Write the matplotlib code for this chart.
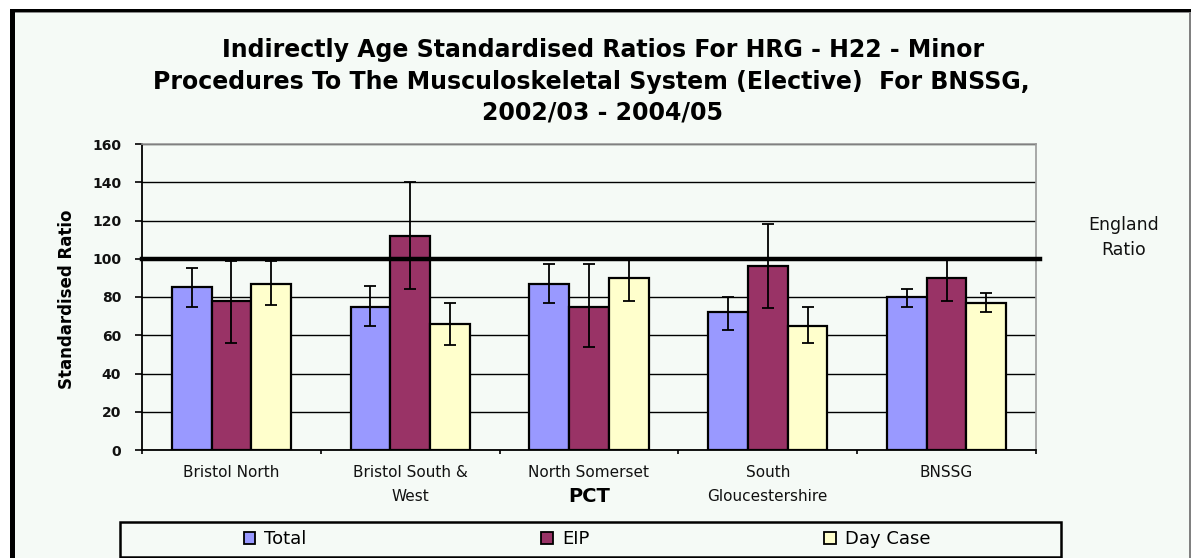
import matplotlib
matplotlib.use("Agg")
import matplotlib.pyplot as plt
from matplotlib.patches import Rectangle, Patch
import numpy as np

# ---- data -------------------------------------------------------------
pcts = ["Bristol North", "Bristol South &\nWest", "North Somerset",
        "South\nGloucestershire", "BNSSG"]
series = ["Total", "EIP", "Day Case"]

total = [85, 75, 87, 72, 80]
total_lo = [75, 65, 77, 63, 75]
total_hi = [95, 86, 97, 80, 84]

eip = [78, 112, 75, 96, 90]
eip_lo = [56, 84, 54, 74, 78]
eip_hi = [99, 140, 97, 118, 100]

daycase = [87, 66, 90, 65, 77]
daycase_lo = [76, 55, 78, 56, 72]
daycase_hi = [99, 77, 100, 75, 82]

england_ratio = 100
yticks = [0, 20, 40, 60, 80, 100, 120, 140, 160]

title_lines = ["Indirectly Age Standardised Ratios For HRG - H22 - Minor",
               "Procedures To The Musculoskeletal System (Elective)  For BNSSG,",
               "2002/03 - 2004/05"]

colors = ["#9999FF", "#993366", "#FFFFCC"]
bg = "#F5FAF6"

# ---- figure -----------------------------------------------------------
W, H = 1191, 558
fig = plt.figure(figsize=(W / 100, H / 100), dpi=100, facecolor=bg)


def fx(px):
    return px / W


def fy(py):
    return 1 - py / H


# white strip above and left of the chart frame
fig.patches.append(Rectangle((0, fy(9)), 1, 9 / H, transform=fig.transFigure,
                             facecolor="white", edgecolor="none", zorder=0))
fig.patches.append(Rectangle((0, 0), fx(10), 1, transform=fig.transFigure,
                             facecolor="white", edgecolor="none", zorder=0))
# chart frame
fig.patches.append(Rectangle((fx(10), fy(12)), 1, 3 / H, transform=fig.transFigure,
                             facecolor="black", edgecolor="none", zorder=5))
fig.patches.append(Rectangle((fx(10), 0), 5 / W, fy(9), transform=fig.transFigure,
                             facecolor="black", edgecolor="none", zorder=5))
fig.patches.append(Rectangle((fx(15), fy(13)), 1, 1 / H, transform=fig.transFigure,
                             facecolor="#8a8a8a", edgecolor="none", zorder=5))
fig.patches.append(Rectangle((fx(1189), 0), 2 / W, fy(12), transform=fig.transFigure,
                             facecolor="#808080", edgecolor="none", zorder=5))

ax = fig.add_axes([fx(142), fy(450), fx(1036) - fx(142), fy(144) - fy(450)])
ax.set_facecolor(bg)

x = np.arange(len(pcts))
w = 1 / 4.5
vals = [total, eip, daycase]
los = [total_lo, eip_lo, daycase_lo]
his = [total_hi, eip_hi, daycase_hi]

for i, (v, lo, hi, c) in enumerate(zip(vals, los, his, colors)):
    v = np.array(v)
    err = np.vstack([v - np.array(lo), np.array(hi) - v])
    ax.bar(x + (i - 1) * w, v, width=w, color=c, edgecolor="black",
           linewidth=1.6, zorder=3)
    ax.errorbar(x + (i - 1) * w, v, yerr=err, fmt="none", ecolor="black",
                elinewidth=1.3, capsize=4, capthick=1.3, zorder=5)

# England reference line
ax.axhline(england_ratio, xmin=0, xmax=1.004, color="black", linewidth=3.2,
           zorder=4, clip_on=False)

ax.set_xlim(-0.5, len(pcts) - 0.5)
ax.set_ylim(0, 160)
ax.set_yticks(yticks)
ax.set_yticklabels([str(t) for t in yticks], fontsize=10, fontweight="bold",
                   color="#111111")
ax.yaxis.grid(True, color="black", linewidth=1.0, zorder=1)
ax.set_axisbelow(True)

ax.set_xticks(x)
ax.set_xticklabels(pcts, fontsize=11, color="#111111", linespacing=1.75)
ax.set_xticks(np.arange(len(pcts) + 1) - 0.5, minor=True)
ax.tick_params(axis="x", which="major", length=0, pad=11)
ax.tick_params(axis="x", which="minor", length=3, width=1.2, direction="out")
ax.tick_params(axis="y", length=5, width=1.2, direction="out", pad=10)

for side in ("top", "right"):
    ax.spines[side].set_color("#9a9a9a")
    ax.spines[side].set_linewidth(1.2)
for side in ("left", "bottom"):
    ax.spines[side].set_color("black")
    ax.spines[side].set_linewidth(1.3)

fig.text(fx(67), fy(299), "Standardised Ratio", rotation=90, ha="center",
         va="center", fontsize=12, fontweight="bold")

fig.text(fx(589), fy(497), "PCT", ha="center", va="center", fontsize=14,
         fontweight="bold")

fig.text(fx(1124), fy(238), "England\nRatio", ha="center", va="center",
         fontsize=12.5, linespacing=1.5, color="#111111")

# three-line title, each line centred on its own
for line, cx, cy in zip(title_lines, (603, 591, 603), (50, 82, 113)):
    fig.text(fx(cx), fy(cy), line, ha="center", va="center", fontsize=17,
             fontweight="bold")

# legend box
fig.patches.append(Rectangle((fx(120), fy(557)), fx(1061) - fx(120), 35 / H,
                             transform=fig.transFigure, facecolor=bg,
                             edgecolor="black", linewidth=1.8, zorder=2))
handles = [Patch(facecolor=c, edgecolor="black", linewidth=1.3) for c in colors]
leg = fig.legend(handles, series, loc="center", bbox_to_anchor=(fx(587), fy(539)),
                 ncol=3, frameon=False, fontsize=13, handlelength=0.65,
                 handleheight=0.65, handletextpad=0.5, columnspacing=13.0)

fig.savefig("out.png", dpi=100, facecolor=bg)
